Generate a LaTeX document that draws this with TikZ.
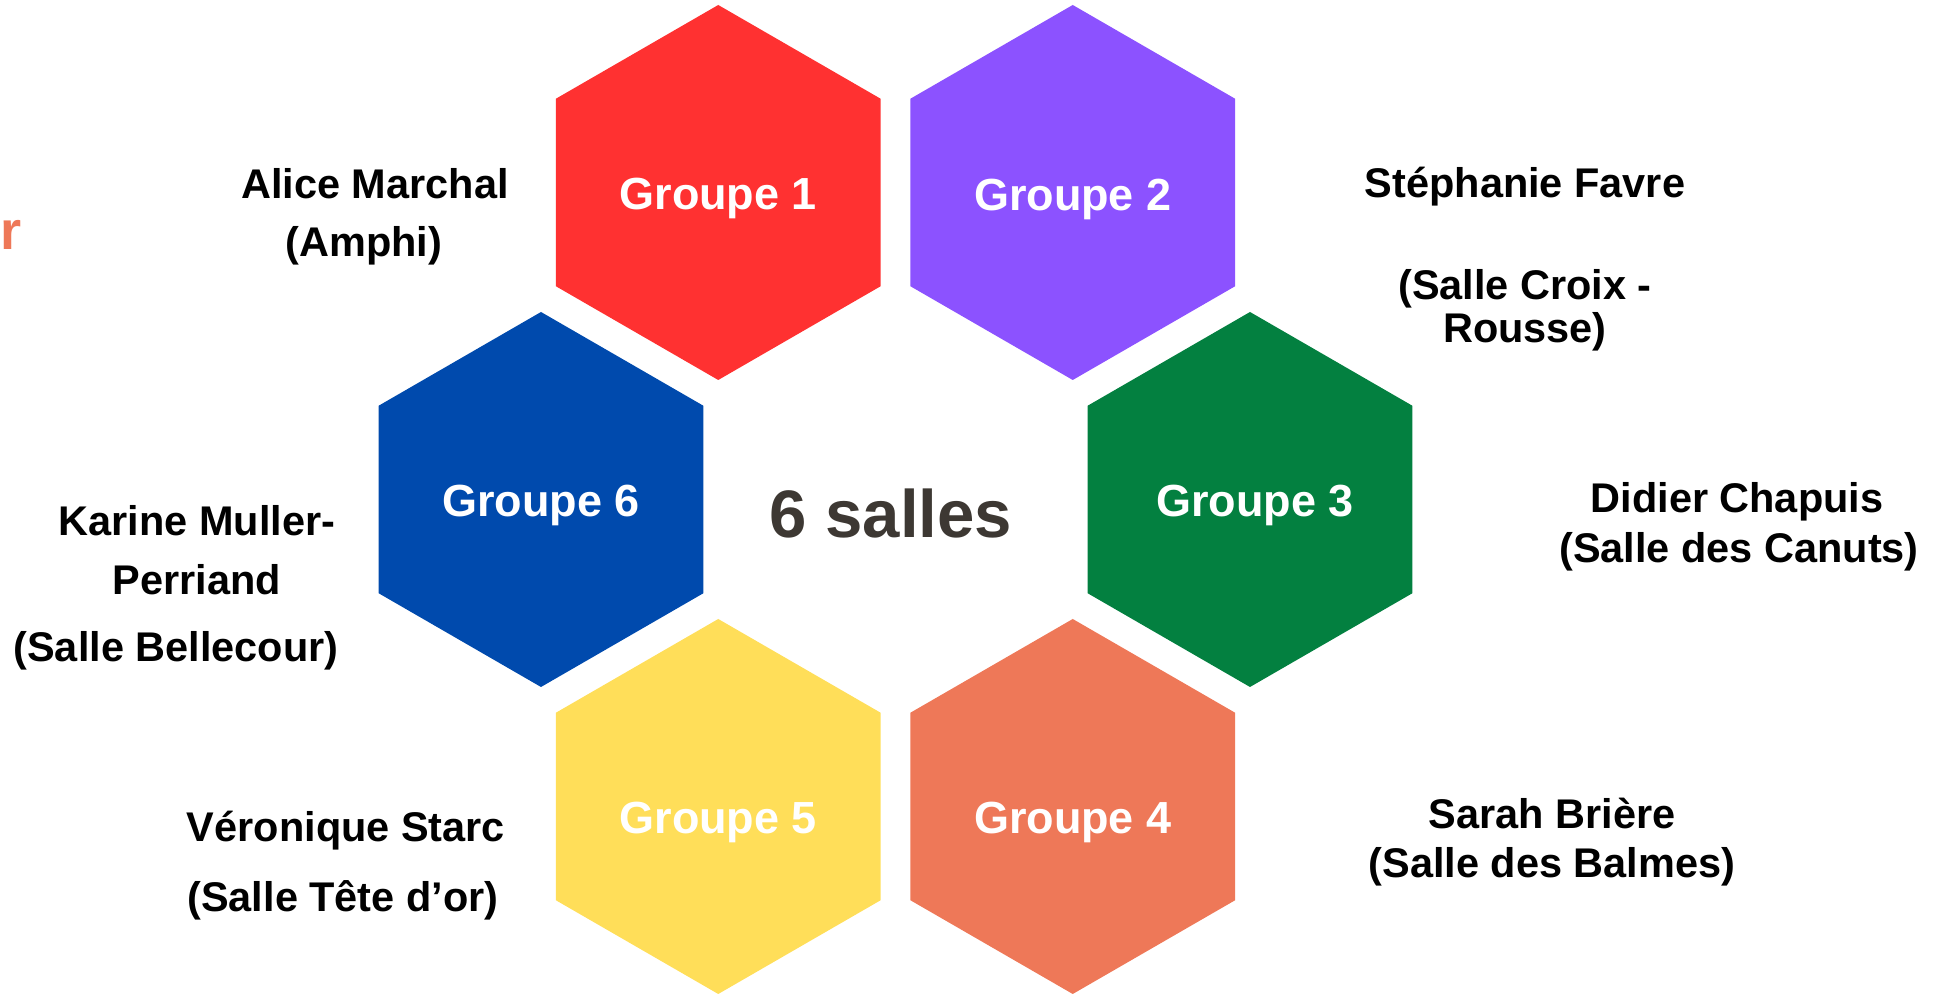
\documentclass[tikz,border=0pt]{standalone}
\usepackage{fontspec}
\setmainfont{Liberation Sans}
\usetikzlibrary{shapes.geometric}

\definecolor{grpred}{HTML}{FF3131}
\definecolor{grppurple}{HTML}{8C52FF}
\definecolor{grpgreen}{HTML}{038040}
\definecolor{grporange}{HTML}{EE7858}
\definecolor{grpyellow}{HTML}{FFDE59}
\definecolor{grpblue}{HTML}{004AAD}
\definecolor{sallesgray}{HTML}{3D3833}

\begin{document}
\begin{tikzpicture}[
	hexa/.style={regular polygon, regular polygon sides=6, shape border rotate=30, minimum size=3.75cm, inner sep=0pt, outer sep=0pt},
	grp/.style={anchor=base, text=white, font=\fontsize{12.8}{15}\selectfont\bfseries},
	who/.style={anchor=base, align=center, font=\fontsize{11.8}{14}\selectfont\bfseries}]
	\useasboundingbox (0,0) rectangle (19.42,-9.94);

% the six rooms
\node [hexa, fill=grpred] (h1) at (7.1825,-1.925) {};
\node [hexa, fill=grppurple] (h2) at (10.7275,-1.925) {};
\node [hexa, fill=grpgreen] (h3) at (12.5,-4.995) {};
\node [hexa, fill=grporange] (h4) at (10.7275,-8.065) {};
\node [hexa, fill=grpyellow] (h5) at (7.1825,-8.065) {};
\node [hexa, fill=grpblue] (h6) at (5.41,-4.995) {};

	\node [grp] (g1) at ([yshift=-0.17cm]h1.center) {Groupe 1};
	\node [grp] (g2) at ([yshift=-0.18cm]h2.center) {Groupe 2};
	\node [grp] (g3) at ([xshift=0.05cm,yshift=-0.175cm]h3.center) {Groupe 3};
	\node [grp] (g4) at ([yshift=-0.27cm]h4.center) {Groupe 4};
	\node [grp] (g5) at ([yshift=-0.27cm]h5.center) {Groupe 5};
	\node [grp] (g6) at ([yshift=-0.175cm]h6.center) {Groupe 6};

\node [anchor=base, text=sallesgray, font=\fontsize{19.1}{22}\selectfont\bfseries] (salles) at (8.91,-5.38) {6 salles};

% who is in which room
\node [who] (name1) at (3.75,-1.99) {Alice Marchal};
\node [who] (room1) at (3.64,-2.57) {(Amphi)};
\node [who] (name2) at (15.25,-1.98) {Stéphanie Favre};
\node [who] (room2) at (15.25,-3.43) {(Salle Croix -\\[-1.5pt]Rousse)};
\node [who] (name3) at (17.37,-5.13) {Didier Chapuis};
\node [who] (room3) at (17.39,-5.63) {(Salle des Canuts)};
\node [who] (name4) at (15.52,-8.29) {Sarah Brière};
\node [who] (room4) at (15.52,-8.78) {(Salle des Balmes)};
\node [who] (name5) at (3.46,-8.42) {Véronique Starc};
\node [who] (room5) at (3.43,-9.12) {(Salle Tête d’or)};
\node [who] (name6) at (1.97,-5.95) {Karine Muller-\\[2.8pt]Perriand};
\node [who] (room6) at (1.76,-6.62) {(Salle Bellecour)};

\node [anchor=base west, inner sep=0pt, text=grporange, font=\fontsize{15.4}{18}\selectfont\bfseries] (cut) at (0,-2.50) {r};

\end{tikzpicture}
\end{document}
